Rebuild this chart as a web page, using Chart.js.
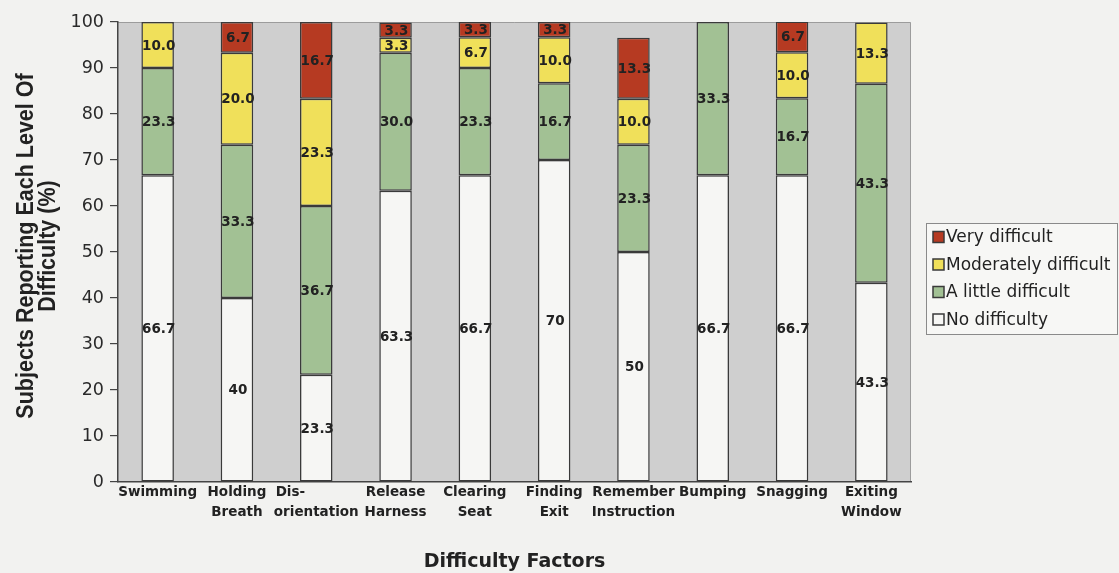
<!DOCTYPE html>
<html>
<head>
<meta charset="utf-8">
<script src="https://cdn.jsdelivr.net/npm/chart.js@4/dist/chart.umd.min.js"></script>
<style>
  html, body { margin: 0; padding: 0; background: #f2f2f0; }
  #wrap { width: 1119px; height: 573px; position: relative; }
</style>
</head>
<body>
<div id="wrap"><canvas id="c"></canvas></div>
<script>
// Difficulty factors (x categories); "Dis-" is padded so both lines start together
const categories = [
  ['Swimming'], ['Holding', 'Breath'], ['Dis-           ', 'orientation'], ['Release', 'Harness'],
  ['Clearing', 'Seat'], ['Finding', 'Exit'], ['Remember', 'Instruction'],
  ['Bumping'], ['Snagging'], ['Exiting', 'Window']
];

// Percent of subjects reporting each level (null = none reported)
const noDifficulty        = [66.7, 40, 23.3, 63.3, 66.7, 70, 50, 66.7, 66.7, 43.3];
const littleDifficult     = [23.3, 33.3, 36.7, 30.0, 23.3, 16.7, 23.3, 33.3, 16.7, 43.3];
const moderatelyDifficult = [10.0, 20.0, 23.3, 3.3, 6.7, 10.0, 10.0, null, 10.0, 13.3];
const veryDifficult       = [null, 6.7, 16.7, 3.3, 3.3, 3.3, 13.3, null, 6.7, null];

const yTicks = [0, 10, 20, 30, 40, 50, 60, 70, 80, 90, 100];

const seriesNames = ['No difficulty', 'A little difficult', 'Moderately difficult', 'Very difficult'];
const seriesColors = ['#f6f6f4', '#a2c194', '#f0e05a', '#b63a22'];

const EDGE = '#3a3a3a';
const TEXT = '#222222';

function fmt(v, dsIndex) {
  if (dsIndex === 0 && Number.isInteger(v)) return String(v);
  return v.toFixed(1);
}

// Plot background and frame
const plotBackground = {
  id: 'plotBackground',
  beforeDraw(chart) {
    const { ctx, chartArea: a } = chart;
    ctx.save();
    ctx.fillStyle = '#cfcfcf';
    ctx.fillRect(a.left, a.top, a.right - a.left, a.bottom - a.top);
    ctx.strokeStyle = '#9c9c9c';
    ctx.lineWidth = 1;
    ctx.beginPath();
    ctx.moveTo(a.left, a.top + 0.5);
    ctx.lineTo(a.right - 0.5, a.top + 0.5);
    ctx.lineTo(a.right - 0.5, a.bottom);
    ctx.stroke();
    ctx.restore();
  }
};

// Value labels centred in each segment
const segmentLabels = {
  id: 'segmentLabels',
  afterDatasetsDraw(chart) {
    const { ctx } = chart;
    ctx.save();
    ctx.font = 'bold 13.5px "DejaVu Sans"';
    ctx.fillStyle = TEXT;
    ctx.textAlign = 'center';
    ctx.textBaseline = 'middle';
    chart.data.datasets.forEach((ds, di) => {
      const meta = chart.getDatasetMeta(di);
      meta.data.forEach((bar, i) => {
        const v = ds.data[i];
        if (v === null || v === undefined || v === 0) return;
        const p = bar.getProps(['x', 'y', 'base'], true);
        ctx.fillText(fmt(v, di), p.x + 1, (p.y + p.base) / 2 + 1);
      });
    });
    ctx.restore();
  }
};

// Legend box and rotated y-axis title
const sideText = {
  id: 'sideText',
  afterDraw(chart) {
    const { ctx } = chart;
    ctx.save();
    // legend
    const lx = 926, ly = 223, lw = 191, lh = 111;
    ctx.fillStyle = '#f7f7f5';
    ctx.fillRect(lx, ly, lw, lh);
    ctx.strokeStyle = '#8a8a8a';
    ctx.lineWidth = 1;
    ctx.strokeRect(lx + 0.5, ly + 0.5, lw, lh);
    ctx.font = '17px "DejaVu Sans"';
    ctx.textAlign = 'left';
    ctx.textBaseline = 'middle';
    const order = [3, 2, 1, 0];
    order.forEach((di, k) => {
      const cy = 237 + k * 27.5;
      ctx.fillStyle = chart.data.datasets[di].backgroundColor;
      ctx.fillRect(933, cy - 5.5, 11, 11);
      ctx.strokeStyle = EDGE;
      ctx.lineWidth = 1.5;
      ctx.strokeRect(933, cy - 5.5, 11, 11);
      ctx.fillStyle = TEXT;
      ctx.fillText(chart.data.datasets[di].label, 946, cy + 1);
    });
    // y title, two lines
    ctx.font = 'bold 21.5px "Liberation Sans"';
    ctx.textAlign = 'center';
    ctx.textBaseline = 'middle';
    ctx.fillStyle = TEXT;
    const lines = [['Subjects Reporting Each Level Of', 26], ['Difficulty (%)', 48]];
    lines.forEach(([t, x]) => {
      ctx.save();
      ctx.translate(x, 246);
      ctx.scale(1.15, 1);
      ctx.rotate(-Math.PI / 2);
      ctx.fillText(t, 0, 0);
      ctx.restore();
    });
    ctx.restore();
  }
};

const seriesData = [noDifficulty, littleDifficult, moderatelyDifficult, veryDifficult];

new Chart(document.getElementById('c'), {
  type: 'bar',
  data: {
    labels: categories,
    datasets: seriesData.map((d, i) => ({
      label: seriesNames[i],
      data: d,
      backgroundColor: seriesColors[i],
      borderColor: EDGE,
      borderWidth: 1.5,
      borderSkipped: false,
      barPercentage: 0.41,
      categoryPercentage: 1.0
    }))
  },
  options: {
    responsive: true,
    maintainAspectRatio: false,
    animation: false,
    layout: { padding: { left: 0, top: 22, right: 208, bottom: 0 } },
    plugins: {
      legend: { display: false },
      tooltip: { enabled: false }
    },
    scales: {
      x: {
        stacked: true,
        afterFit(s) { s.height = 91; },
        grid: { display: true, drawOnChartArea: false, drawTicks: false },
        border: { display: true, color: '#444', width: 1.5 },
        ticks: {
          color: TEXT,
          padding: 1,
          maxRotation: 0,
          autoSkip: false,
          font: { family: '"DejaVu Sans"', size: 13.5, weight: 'bold', lineHeight: 1.48 }
        },
        title: {
          display: true,
          text: 'Difficulty Factors',
          color: TEXT,
          padding: { top: 0, bottom: 0 },
          font: { family: '"DejaVu Sans"', size: 19, weight: 'bold' }
        }
      },
      y: {
        stacked: true,
        min: 0,
        max: 100,
        afterFit(s) { s.width = 118; },
        afterBuildTicks(s) { s.ticks = yTicks.map(v => ({ value: v })); },
        grid: { display: true, drawOnChartArea: false, drawTicks: true, tickLength: 8, color: '#444', lineWidth: 1.2 },
        border: { display: true, color: '#444', width: 1.5 },
        ticks: {
          color: '#2a2a2a',
          padding: 6,
          font: { family: '"DejaVu Sans"', size: 17.5 }
        }
      }
    }
  },
  plugins: [plotBackground, segmentLabels, sideText]
});
</script>
</body>
</html>
